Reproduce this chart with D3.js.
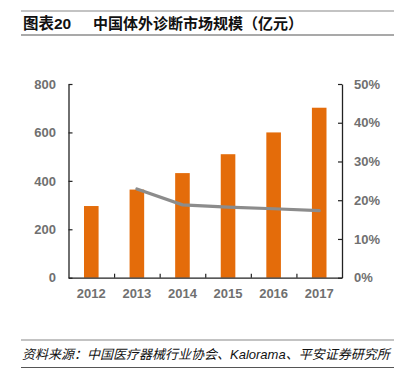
<!DOCTYPE html>
<html>
<head>
<meta charset="utf-8">
<script src="https://cdn.jsdelivr.net/npm/d3@7"></script>
<style>
body { margin: 0; background: #fff; }
text { font-family: "Liberation Sans", Arial, "Noto Sans CJK SC", sans-serif; }
</style>
</head>
<body>
<script>
var years = ["2012", "2013", "2014", "2015", "2016", "2017"];
var market = [296, 364, 432, 510, 600, 702];
var growthYears = ["2013", "2014", "2015", "2016", "2017"];
var growth = [22.9, 18.8, 18.2, 17.8, 17.3];
var leftTicks = [0, 200, 400, 600, 800];
var rightTicks = [0, 10, 20, 30, 40, 50];

var width = 404, height = 372;
var plotLeft = 68.5, plotRight = 342, plotTop = 84, plotBottom = 277.7;

var svg = d3.select("body").append("svg")
		.attr("width", width)
		.attr("height", height);

// header and footer rules
[11, 35, 340, 367.5].forEach(function(yy, i){
	svg.append("line")
		.attr("x1", 21).attr("x2", 394)
		.attr("y1", yy).attr("y2", yy)
		.attr("stroke", i % 2 == 0 ? "#888" : "#555")
		.attr("stroke-width", 1.2);
});

svg.append("text")
		.attr("x", 23).attr("y", 28.5)
		.attr("font-size", 15.5).attr("font-weight", "bold")
		.attr("fill", "#111")
		.text("图表20");
svg.append("text")
		.attr("x", 93).attr("y", 28.5)
		.attr("font-size", 15).attr("font-weight", "bold")
		.attr("fill", "#111")
		.text("中国体外诊断市场规模（亿元）");

svg.append("text")
		.attr("x", 22).attr("y", 358.5)
		.attr("font-size", 13).attr("font-style", "italic")
		.attr("fill", "#111")
		.text("资料来源：中国医疗器械行业协会、Kalorama、平安证券研究所");

var x = d3.scaleBand().domain(years).range([plotLeft, plotRight]).paddingInner(0.68).paddingOuter(0.34);
var y = d3.scaleLinear().domain([0, 800]).range([plotBottom, plotTop]);
var y2 = d3.scaleLinear().domain([0, 50]).range([plotBottom, plotTop]);

svg.selectAll("rect.bar")
		.data(market)
	.enter().append("rect")
		.attr("class", "bar")
		.attr("x", function(d, i){ return x(years[i]); })
		.attr("width", x.bandwidth())
		.attr("y", function(d){ return y(d); })
		.attr("height", function(d){ return plotBottom - y(d); })
		.attr("fill", "#E46C0A");

var line = d3.line()
		.x(function(d, i){ return x(growthYears[i]) + x.bandwidth() / 2; })
		.y(function(d){ return y2(d); });

svg.append("path")
		.datum(growth)
		.attr("d", line)
		.attr("fill", "none")
		.attr("stroke", "#8c8c8c")
		.attr("stroke-width", 3.2)
		.attr("stroke-linecap", "round");

// axes
var axisColor = "#222";
var gl = svg.append("g").attr("transform", "translate(" + plotLeft + ",0)")
		.call(d3.axisRight(y).tickValues(leftTicks).tickSize(4).tickSizeOuter(0).tickFormat(""));
var gr = svg.append("g").attr("transform", "translate(" + plotRight + ",0)")
		.call(d3.axisLeft(y2).tickValues(rightTicks).tickSize(4).tickSizeOuter(0).tickFormat(""));
var xTicks = years.slice(1).map(function(d){ return x(d) - x.step() * x.paddingInner() / 2; });
var gx = svg.append("g").attr("transform", "translate(0," + plotBottom + ")")
		.call(d3.axisTop(d3.scaleLinear().domain([plotLeft, plotRight]).range([plotLeft, plotRight]))
			.tickValues(xTicks).tickSize(4).tickSizeOuter(0).tickFormat(""));
[gl, gr, gx].forEach(function(g){
	g.selectAll("path.domain").attr("stroke", axisColor).attr("stroke-width", 1.3);
	g.selectAll("line").attr("stroke", axisColor).attr("stroke-width", 1.2);
});

svg.selectAll("text.yl")
		.data(leftTicks)
	.enter().append("text")
		.attr("class", "yl")
		.attr("x", 56).attr("y", function(d){ return y(d) + 4.7; })
		.attr("text-anchor", "end")
		.attr("font-size", 13).attr("font-weight", "bold")
		.attr("fill", "#707070")
		.text(function(d){ return d; });

svg.selectAll("text.yr")
		.data(rightTicks)
	.enter().append("text")
		.attr("class", "yr")
		.attr("x", 354).attr("y", function(d){ return y2(d) + 4.7; })
		.attr("font-size", 13).attr("font-weight", "bold")
		.attr("fill", "#707070")
		.text(function(d){ return d + "%"; });

svg.selectAll("text.xl")
		.data(years)
	.enter().append("text")
		.attr("class", "xl")
		.attr("x", function(d){ return x(d) + x.bandwidth() / 2; })
		.attr("y", 298)
		.attr("text-anchor", "middle")
		.attr("font-size", 13).attr("font-weight", "bold")
		.attr("fill", "#707070")
		.text(function(d){ return d; });
</script>
</body>
</html>
